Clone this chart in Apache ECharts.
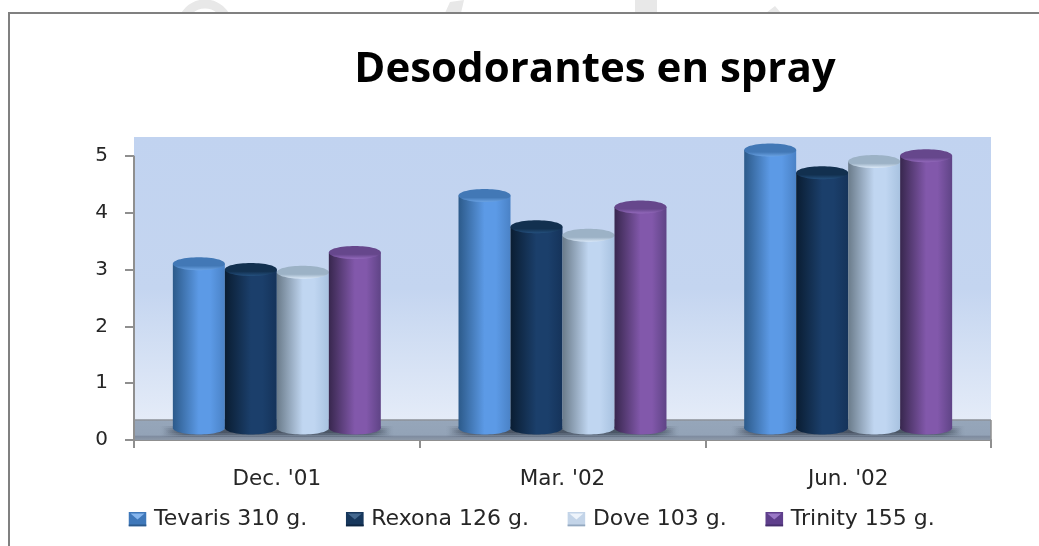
<!DOCTYPE html>
<html>
<head>
<meta charset="utf-8">
<script src="https://cdn.jsdelivr.net/npm/echarts@6/dist/echarts.min.js"></script>
<style>
html, body { margin: 0; padding: 0; background: #fff; }
#chart { width: 1039px; height: 546px; }
</style>
</head>
<body>
<div id="chart"></div>
<script>
// Cilindros "3D" con series custom: el valor sale siempre de api.coord
const periods = ["Dec. '01", "Mar. '02", "Jun. '02"];
const tevaris = [3.1, 4.3, 5.1];
const rexona = [3.0, 3.75, 4.7];
const dove = [2.95, 3.6, 4.9];
const trinity = [3.3, 4.1, 5.0];
const seriesNames = ['Tevaris 310 g.', 'Rexona 126 g.', 'Dove 103 g.', 'Trinity 155 g.'];
const yTicks = [0, 1, 2, 3, 4, 5];

const TITLE_FONT = '"Open Sans", Lato, sans-serif';
const FONT = '"DejaVu Sans", "Open Sans", sans-serif';  // el original va estirado en horizontal
const AXIS_GRAY = '#8f8f8f';
const FLOOR_TOP = 0.35;   // el suelo del gráfico 3D llega hasta aquí
const BAR_BASE = 0.21;    // los cilindros apoyan sobre el suelo, no sobre el eje
const Y_MAX = 5.33;
const BAR_SHARE = 0.182;  // ancho de cada cilindro respecto a la categoría
const CAP_RY = 6.5;

// left, mid, right, cap, rim
const palettes = [
  ['#2c5a8a', '#5c9ae6', '#4a82c6', '#4278b6', '#6ba3e4'],
  ['#0a1d32', '#1b3f6b', '#15335a', '#12304f', '#24507e'],
  ['#6a7b8a', '#c0d6f1', '#a8c2e0', '#9cb2c6', '#dbe9f8'],
  ['#38274e', '#8258ab', '#5f4486', '#66478c', '#9268bb']
];
// sobre de la leyenda: fondo, triángulo, borde inferior
const legendIcons = [
  ['#3f78ba', '#86b6ee', '#2c5a8c'],
  ['#17375c', '#44688f', '#0e2540'],
  ['#c3d4e8', '#eef4fb', '#93a8bf'],
  ['#5f3f8c', '#9a78c6', '#46306c']
];

function hGrad(c) {
  return new echarts.graphic.LinearGradient(0, 0, 1, 0, [
    { offset: 0, color: c[0] },
    { offset: 0.5, color: c[1] },
    { offset: 0.72, color: c[1] },
    { offset: 1, color: c[2] }
  ]);
}

function envelope(c) {
  const svg = '<svg xmlns="http://www.w3.org/2000/svg" width="18" height="15">' +
    '<rect width="18" height="15" fill="' + c[0] + '"/>' +
    '<path d="M2 2H16L9 8Z" fill="' + c[1] + '"/>' +
    '<rect y="13" width="18" height="2" fill="' + c[2] + '"/></svg>';
  return 'image://data:image/svg+xml;charset=utf-8,' + encodeURIComponent(svg);
}

function cylinder(idx) {
  return function (params, api) {
    const band = api.size([1, 0])[0];
    const w = band * BAR_SHARE;
    const x = api.coord([api.value(0), 0])[0] + (idx - 2) * w;
    const top = api.coord([api.value(0), api.value(1)])[1];
    const base = api.coord([api.value(0), BAR_BASE])[1];
    const c = palettes[idx];
    return {
      type: 'group',
      children: [
        { type: 'rect', shape: { x: x, y: top, width: w, height: base - top }, style: { fill: hGrad(c) } },
        { type: 'ellipse', shape: { cx: x + w / 2, cy: base, rx: w / 2, ry: CAP_RY }, style: { fill: hGrad(c) } },
        { type: 'ellipse', shape: { cx: x + w / 2, cy: top, rx: w / 2, ry: CAP_RY },
          style: { fill: new echarts.graphic.LinearGradient(0, 0, 0, 1, [
            { offset: 0, color: c[3] }, { offset: 0.65, color: c[3] }, { offset: 1, color: c[4] }]) } }
      ]
    };
  };
}

function shadowFill(alpha) {
  const col = 'rgba(55,65,80,';
  return new echarts.graphic.LinearGradient(0, 0, 1, 0, [
    { offset: 0, color: col + '0)' },
    { offset: 0.1, color: col + alpha + ')' },
    { offset: 0.9, color: col + alpha + ')' },
    { offset: 1, color: col + '0)' }
  ]);
}

// Suelo, sombra de cada grupo y eje Y (que se detiene en el 5)
function backdrop(params, api) {
  const cs = params.coordSys;
  const y0 = api.coord([0, 0])[1];
  const yFloor = api.coord([0, FLOOR_TOP])[1];
  const yFive = api.coord([0, yTicks[yTicks.length - 1]])[1];
  const xEnd = cs.x + cs.width;
  const children = [
    { type: 'rect', shape: { x: cs.x, y: yFloor, width: cs.width, height: y0 - yFloor },
      style: { fill: new echarts.graphic.LinearGradient(0, 0, 0, 1, [
        { offset: 0, color: '#96a6ba' }, { offset: 0.75, color: '#93a3b7' },
        { offset: 0.82, color: '#7f8ca0' }, { offset: 1, color: '#8d99a8' }]) } },
    { type: 'line', shape: { x1: cs.x, y1: yFloor, x2: xEnd, y2: yFloor }, style: { stroke: '#8c929a', lineWidth: 1.5 } },
    { type: 'line', shape: { x1: xEnd, y1: y0, x2: xEnd, y2: yFloor }, style: { stroke: AXIS_GRAY, lineWidth: 1.5 } },
    { type: 'line', shape: { x1: cs.x, y1: y0, x2: cs.x, y2: yFive }, style: { stroke: AXIS_GRAY, lineWidth: 2 } }
  ];
  const band = api.size([1, 0])[0];
  periods.forEach(function (p, i) {
    const cx = api.coord([i, 0])[0];
    const half = band * 0.41;
    children.push(
      { type: 'rect', shape: { x: cx - half, y: yFloor + 6, width: half * 2, height: 11 }, style: { fill: shadowFill(0.3) } },
      { type: 'rect', shape: { x: cx - half + 3, y: yFloor + 8, width: half * 2 - 6, height: 7 }, style: { fill: shadowFill(0.45) } },
      { type: 'rect', shape: { x: cx - half + 6, y: yFloor + 10, width: half * 2 - 12, height: 3 }, style: { fill: shadowFill(0.45) } }
    );
  });
  return { type: 'group', children: children };
}

const allValues = [tevaris, rexona, dove, trinity];
const chart = echarts.init(document.getElementById('chart'));

chart.setOption({
  animation: false,
  backgroundColor: '#fff',
  title: {
    text: 'Desodorantes en spray',
    left: 590, top: 44, textAlign: 'center',
    textStyle: { fontFamily: TITLE_FONT, fontSize: 42, fontWeight: 'bold', color: '#000' }
  },
  legend: {
    left: 123, top: 503,
    itemWidth: 19, itemHeight: 15, itemGap: 38,
    textStyle: { fontFamily: FONT, fontSize: 22, color: '#262626', padding: [0, 0, 0, 2] },
    data: seriesNames.map(function (n, i) {
      return { name: n, icon: envelope(legendIcons[i]) };
    })
  },
  grid: {
    left: 134, right: 48, top: 137, bottom: 106,
    show: true, borderWidth: 0,
    backgroundColor: new echarts.graphic.LinearGradient(0, 0, 0, 1, [
      { offset: 0, color: '#c1d3f0' }, { offset: 0.5, color: '#c4d5f0' }, { offset: 1, color: '#e9eff9' }])
  },
  xAxis: {
    type: 'category', data: periods,
    axisLine: { lineStyle: { color: AXIS_GRAY, width: 2 } },
    axisTick: { show: true, alignWithLabel: false, length: 8, lineStyle: { color: AXIS_GRAY, width: 2 } },
    axisLabel: { fontFamily: FONT, fontSize: 21.5, color: '#262626', margin: 28 }
  },
  yAxis: {
    type: 'value', min: 0, max: Y_MAX, interval: 1,
    splitLine: { show: false },
    axisLine: { show: false },
    axisTick: { show: true, length: 9, customValues: yTicks, lineStyle: { color: AXIS_GRAY, width: 2 } },
    axisLabel: { customValues: yTicks, fontFamily: FONT, fontSize: 20, color: '#262626', margin: 26 }
  },
  series: [
    { type: 'custom', name: 'fondo', silent: true, z: 1, renderItem: backdrop, data: [[0, 0]], clip: false }
  ].concat(allValues.map(function (vals, i) {
    return {
      type: 'custom', name: seriesNames[i], z: 2, clip: false,
      renderItem: cylinder(i),
      encode: { x: 0, y: 1 },
      data: vals.map(function (v, k) { return [k, v]; })
    };
  })),
  graphic: [
    // restos de la marca de agua por encima del marco
    { type: 'arc', shape: { cx: 205, cy: 27, r: 23, startAngle: Math.PI, endAngle: Math.PI * 1.95 }, style: { stroke: '#e8e8e8', lineWidth: 9, fill: null }, z: 0 },
    { type: 'polygon', shape: { points: [[445, 13], [450, 2], [464, 0], [461, 13]] }, style: { fill: '#e8e8e8' }, z: 0 },
    { type: 'rect', shape: { x: 635, y: 0, width: 22, height: 13 }, style: { fill: '#e8e8e8' }, z: 0 },
    { type: 'polygon', shape: { points: [[766, 13], [775, 6], [781, 13]] }, style: { fill: '#e8e8e8' }, z: 0 },
    { type: 'line', shape: { x1: 9, y1: 546, x2: 9, y2: 13 }, style: { stroke: '#808080', lineWidth: 2 }, z: 1 },
    { type: 'line', shape: { x1: 8, y1: 13, x2: 1039, y2: 13 }, style: { stroke: '#808080', lineWidth: 2 }, z: 1 },
    { type: 'rect', shape: { x: 10, y: 14, width: 300, height: 30 }, style: { fill: '#fff' }, z: 0 }
  ]
});
</script>
</body>
</html>
